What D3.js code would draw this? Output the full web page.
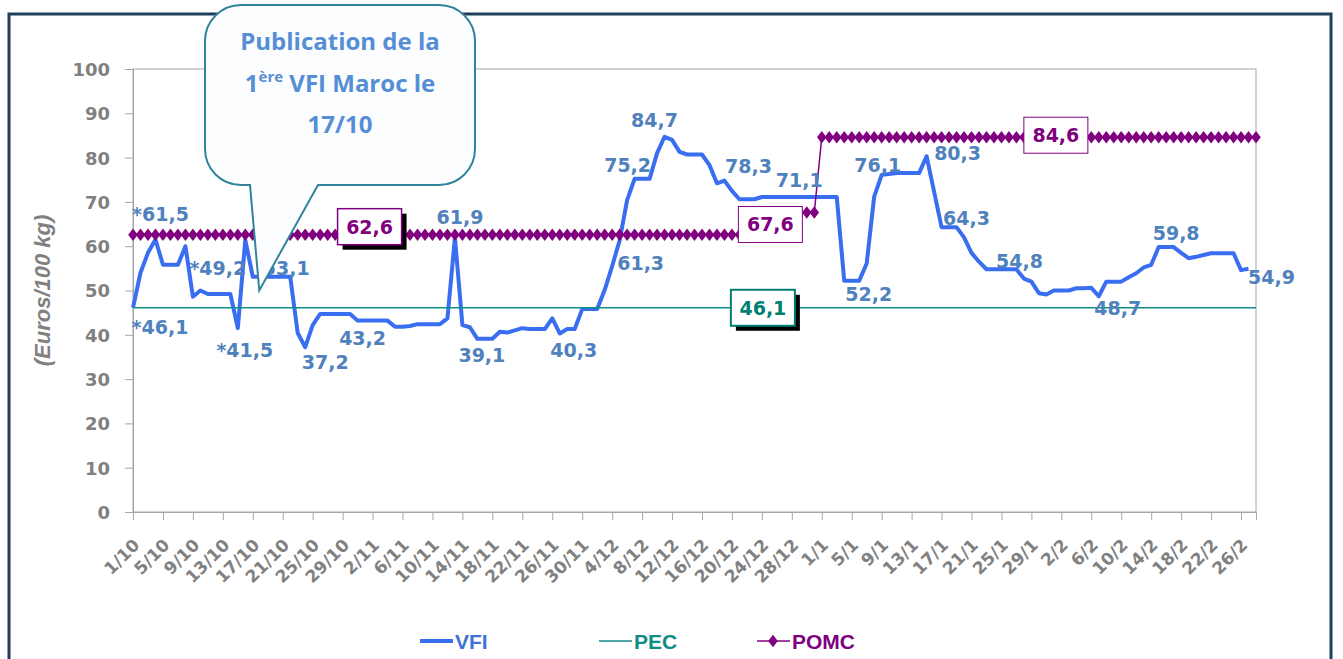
<!DOCTYPE html>
<html>
<head>
<meta charset="utf-8">
<script src="https://cdn.jsdelivr.net/npm/d3@7"></script>
<style>
body { margin: 0; background: #fff; }
svg text { font-family: "DejaVu Sans", sans-serif; font-weight: bold; }
</style>
</head>
<body>
<svg id="vis" width="1343" height="659"></svg>
<script>
// categories: every day from 1/10 to 28/2
var months = [["10", 31], ["11", 30], ["12", 31], ["1", 31], ["2", 28]];
var days = [];
months.forEach(function(m) {
    for (var d = 1; d <= m[1]; d++) days.push(d + "/" + m[0]);
});

// VFI (Euros/100 kg)
var vfi = [
    46.1, 54.0, 58.5, 61.5, 55.8, 55.8, 55.8, 60.0, 48.6, 50.0,
    49.2, 49.2, 49.2, 49.2, 41.5, 61.4, 53.1, 53.1, 53.1, 53.1,
    53.1, 53.1, 40.4, 37.2, 42.2, 44.7, 44.7, 44.7, 44.7, 44.7,
    43.2, 43.2, 43.2, 43.2, 43.2, 41.8, 41.8, 42.0, 42.4, 42.4,
    42.4, 42.4, 43.7, 61.9, 42.2, 41.7, 39.1, 39.1, 39.1, 40.7,
    40.5, 41.0, 41.5, 41.3, 41.3, 41.3, 43.7, 40.3, 41.3, 41.3,
    45.8, 45.8, 45.8, 50.1, 55.5, 61.3, 70.4, 75.2, 75.2, 75.2,
    81.0, 84.7, 84.0, 81.3, 80.7, 80.7, 80.7, 78.3, 74.2, 74.8,
    72.5, 70.6, 70.6, 70.6, 71.1, 71.1, 71.1, 71.1, 71.1, 71.1,
    71.1, 71.1, 71.1, 71.1, 71.1, 52.2, 52.2, 52.2, 56.1, 71.2,
    76.1, 76.3, 76.5, 76.5, 76.5, 76.5, 80.3, 72.3, 64.3, 64.3,
    64.3, 62.0, 58.5, 56.5, 54.8, 54.8, 54.8, 54.8, 54.8, 52.7,
    52.0, 49.4, 49.1, 50.0, 50.0, 50.0, 50.5, 50.5, 50.6, 48.7,
    52.0, 52.0, 52.0, 53.0, 53.9, 55.2, 55.8, 59.8, 59.8, 59.8,
    58.5, 57.3, 57.6, 58.0, 58.4, 58.4, 58.4, 58.4, 54.6, 54.9
];

// piecewise constant levels: [value, number of days]
var pomcRuns = [[62.6, 85], [67.6, 7], [84.6, 59]];
var pecRuns = [[46.1, 151]];

var yTicks = [0, 10, 20, 30, 40, 50, 60, 70, 80, 90, 100];

function expand(runs) {
    var out = [];
    runs.forEach(function(r) { for (var k = 0; k < r[1]; k++) out.push(r[0]); });
    return out;
}
var pomc = expand(pomcRuns);
var pec = expand(pecRuns);

// labels on the curve (index, text, offset of the label centre)
var vfiLabels = [
    {i: 3, t: "*61,5", dx: 5, dy: -25},
    {i: 0, t: "*46,1", dx: 27, dy: 19},
    {i: 10, t: "*49,2", dx: 10, dy: -26},
    {i: 14, t: "*41,5", dx: 7, dy: 22},
    {i: 17, t: "53,1", dx: 26, dy: -9},
    {i: 23, t: "37,2", dx: 20, dy: 15},
    {i: 30, t: "43,2", dx: 5, dy: 18},
    {i: 43, t: "61,9", dx: 5, dy: -21},
    {i: 47, t: "39,1", dx: -3, dy: 16},
    {i: 57, t: "40,3", dx: 14, dy: 17},
    {i: 65, t: "61,3", dx: 21, dy: 23},
    {i: 67, t: "75,2", dx: -7, dy: -14},
    {i: 71, t: "84,7", dx: -10, dy: -17},
    {i: 77, t: "78,3", dx: 39, dy: 1},
    {i: 89, t: "71,1", dx: 0, dy: -17},
    {i: 96, t: "52,2", dx: 17, dy: 13},
    {i: 100, t: "76,1", dx: -4, dy: -10},
    {i: 106, t: "80,3", dx: 31, dy: -3},
    {i: 108, t: "64,3", dx: 25, dy: -9},
    {i: 118, t: "54,8", dx: 3, dy: -8},
    {i: 129, t: "48,7", dx: 19, dy: 12},
    {i: 138, t: "59,8", dx: 10, dy: -14},
    {i: 149, t: "54,9", dx: 23, dy: 8}
];
var boxLabels = [
    {s: "pomc", i: 32, dx: -3, dy: -8, color: "#800080", shadow: true, bw: 1.5},
    {s: "pomc", i: 85, dx: 1, dy: 12, color: "#800080", shadow: false, bw: 1},
    {s: "pomc", i: 123, dx: 2, dy: -2, color: "#800080", shadow: false, bw: 1},
    {s: "pec", i: 84, dx: 1, dy: 0, color: "#007f70", shadow: true, bw: 2}
];

var vfiColor = "#3a6ef0", labelColor = "#4f81bd", pecColor = "#108c87", pomcColor = "#800080";
var axisGrey = "#808080";

var svg = d3.select("#vis");
var plot = {left: 133, right: 1256, top: 69, bottom: 512};

var x = d3.scalePoint().domain(d3.range(days.length)).range([plot.left, plot.right]);
var y = d3.scaleLinear().domain([0, 100]).range([plot.bottom, plot.top]);

// outer frame
svg.append("rect")
    .attr("x", 9).attr("y", 14).attr("width", 1322).attr("height", 700)
    .attr("fill", "none").attr("stroke", "#1f3e5c").attr("stroke-width", 3);

// plot area
svg.append("rect")
    .attr("x", plot.left).attr("y", plot.top)
    .attr("width", plot.right - plot.left).attr("height", plot.bottom - plot.top)
    .attr("fill", "none").attr("stroke", "#a6a6a6").attr("stroke-width", 1);

// y axis
var yAxis = d3.axisLeft(y).tickValues(yTicks).tickSize(8).tickPadding(15);
var gy = svg.append("g").attr("transform", "translate(" + plot.left + ",0)").call(yAxis);
gy.select(".domain").attr("stroke", "#a6a6a6");
gy.selectAll(".tick line").attr("stroke", "#a6a6a6");
gy.selectAll(".tick text").attr("fill", axisGrey)
    .style("font-family", "'DejaVu Sans', sans-serif").style("font-size", "18px")
    .attr("dy", "0.36em");

// x axis, one tick every 4 days
var xAxis = d3.axisBottom(x)
    .tickValues(d3.range(0, days.length, 4))
    .tickFormat(function(i) { return days[i]; })
    .tickSize(8);
var gx = svg.append("g").attr("transform", "translate(0," + plot.bottom + ")").call(xAxis);
gx.select(".domain").attr("stroke", "#a6a6a6");
gx.selectAll(".tick line").attr("stroke", "#a6a6a6");
gx.selectAll(".tick text")
    .attr("fill", axisGrey)
    .style("font-family", "'DejaVu Sans', sans-serif").style("font-size", "17px")
    .attr("text-anchor", "end")
    .attr("y", 0).attr("dy", "0.35em")
    .attr("transform", "translate(3,30) rotate(-45)");

// y title
svg.append("text")
    .attr("transform", "translate(50," + ((plot.top + plot.bottom) / 2) + ") rotate(-90)")
    .attr("text-anchor", "middle")
    .attr("fill", axisGrey)
    .style("font-family", "'Liberation Sans', Arial, sans-serif")
    .style("font-size", "22px").style("font-style", "italic")
    .text("(Euros/100 kg)");

// series
var line = d3.line().x(function(d, i) { return x(i); }).y(function(d) { return y(d); });

svg.append("path").datum(vfi)
    .attr("d", line).attr("fill", "none")
    .attr("stroke", vfiColor).attr("stroke-width", 4).attr("stroke-linejoin", "round");

svg.append("path").datum(pec)
    .attr("d", line).attr("fill", "none")
    .attr("stroke", pecColor).attr("stroke-width", 1.5);

svg.append("path").datum(pomc)
    .attr("d", line).attr("fill", "none")
    .attr("stroke", pomcColor).attr("stroke-width", 1.5);

var diamond = {
    draw: function(ctx, size) {
        var w = 4.8, h = 6.3;
        ctx.moveTo(0, -h); ctx.lineTo(w, 0); ctx.lineTo(0, h); ctx.lineTo(-w, 0); ctx.closePath();
    }
};
svg.append("g").selectAll("path")
    .data(pomc).enter().append("path")
    .attr("d", d3.symbol().type(diamond))
    .attr("transform", function(d, i) { return "translate(" + x(i) + "," + y(d) + ")"; })
    .attr("fill", pomcColor);

// VFI value labels
svg.append("g").selectAll("text")
    .data(vfiLabels).enter().append("text")
    .attr("x", function(d) { return x(d.i) + d.dx; })
    .attr("y", function(d) { return y(vfi[d.i]) + d.dy; })
    .attr("text-anchor", "middle").attr("dy", "0.36em")
    .attr("fill", labelColor).style("font-size", "19px")
    .text(function(d) { return d.t; });

// boxed level labels
var series = {pomc: pomc, pec: pec};
var boxes = svg.append("g").selectAll("g")
    .data(boxLabels).enter().append("g")
    .attr("transform", function(d) {
        return "translate(" + (x(d.i) + d.dx) + "," + (y(series[d.s][d.i]) + d.dy) + ")";
    });
boxes.filter(function(d) { return d.shadow; }).append("rect")
    .attr("x", -27).attr("y", -13).attr("width", 64).attr("height", 36).attr("fill", "#000");
boxes.append("rect")
    .attr("x", -32).attr("y", -18).attr("width", 64).attr("height", 36)
    .attr("fill", "#fff").attr("stroke", function(d) { return d.color; })
    .attr("stroke-width", function(d) { return d.bw; });
boxes.append("text")
    .attr("text-anchor", "middle").attr("dy", "0.36em")
    .attr("fill", function(d) { return d.color; }).style("font-size", "19px")
    .text(function(d) { return d3.format(".1f")(series[d.s][d.i]).replace(".", ","); });

// callout
var c = {l: 205, t: 5, r: 475, b: 185, rad: 36};
var tip = {i: 17, v: 50};
var callout = "M" + (c.l + c.rad) + "," + c.t +
    "H" + (c.r - c.rad) + "A" + c.rad + "," + c.rad + " 0 0 1 " + c.r + "," + (c.t + c.rad) +
    "V" + (c.b - c.rad) + "A" + c.rad + "," + c.rad + " 0 0 1 " + (c.r - c.rad) + "," + c.b +
    "H318L" + (x(tip.i) - 1) + "," + y(tip.v) + "L250," + c.b +
    "H" + (c.l + c.rad) + "A" + c.rad + "," + c.rad + " 0 0 1 " + c.l + "," + (c.b - c.rad) +
    "V" + (c.t + c.rad) + "A" + c.rad + "," + c.rad + " 0 0 1 " + (c.l + c.rad) + "," + c.t + "Z";
svg.append("path").attr("d", callout)
    .attr("fill", "#fcfdfe").attr("stroke", "#31849b").attr("stroke-width", 2);

var ct = svg.append("text")
    .attr("text-anchor", "middle").attr("fill", "#558ed5")
    .style("font-family", "'Open Sans', sans-serif").style("font-size", "24px");
ct.append("tspan").attr("x", 340).attr("y", 50).text("Publication de la");
var l2 = ct.append("tspan").attr("x", 340).attr("y", 92);
l2.text("1");
ct.append("tspan").attr("dy", -10).style("font-size", "15px").text("ère");
ct.append("tspan").attr("dy", 10).text(" VFI Maroc le");
ct.append("tspan").attr("x", 340).attr("y", 133).text("17/10");

// legend
var legend = [
    {name: "VFI", color: vfiColor, text: "#3f72d6", w: 4, marker: false, x: 420},
    {name: "PEC", color: pecColor, text: pecColor, w: 1.5, marker: false, x: 599},
    {name: "POMC", color: pomcColor, text: pomcColor, w: 1.5, marker: true, x: 757}
];
var lg = svg.append("g").selectAll("g").data(legend).enter().append("g")
    .attr("transform", function(d) { return "translate(" + d.x + ",641)"; });
lg.append("line").attr("x1", 0).attr("x2", 33)
    .attr("stroke", function(d) { return d.color; })
    .attr("stroke-width", function(d) { return d.w; });
lg.filter(function(d) { return d.marker; }).append("path")
    .attr("d", d3.symbol().type(diamond)).attr("transform", "translate(16,0)")
    .attr("fill", pomcColor);
lg.append("text").attr("x", 35).attr("dy", "0.36em")
    .attr("fill", function(d) { return d.text; })
    .style("font-size", "21px")
    .style("font-family", "'Liberation Sans Narrow', 'Liberation Sans', Arial, sans-serif")
    .text(function(d) { return d.name; });
</script>
</body>
</html>
